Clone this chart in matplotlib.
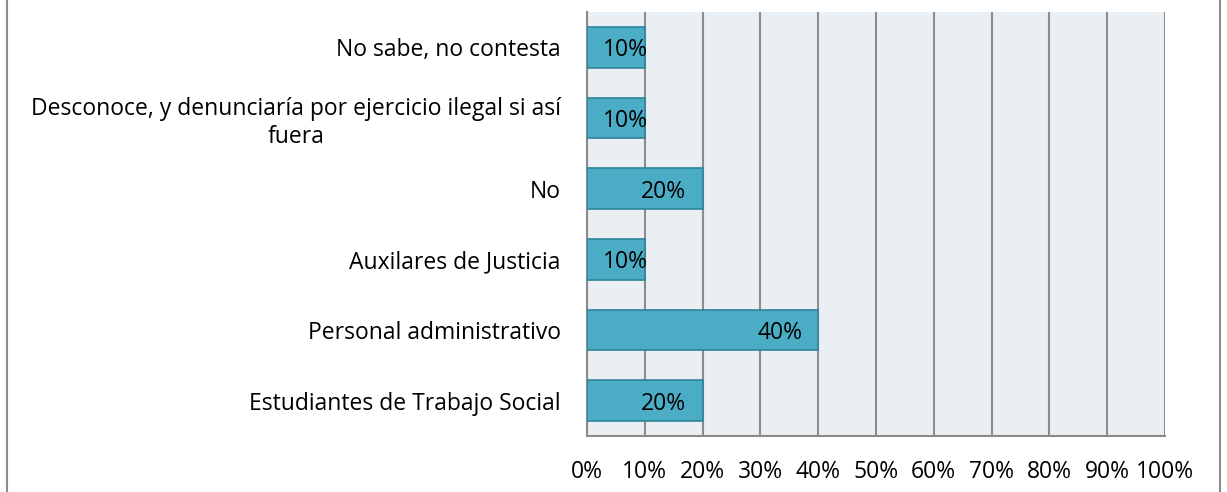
import matplotlib.pyplot as plt
from matplotlib.lines import Line2D

categories = ['Estudiantes de Trabajo Social', 'Personal administrativo',
              'Auxilares de Justicia', 'No',
              'Desconoce, y denunciaría por ejercicio ilegal si así\nfuera',
              'No sabe, no contesta']
values = [20, 40, 10, 20, 10, 10]
xticks = [0, 10, 20, 30, 40, 50, 60, 70, 80, 90, 100]

plt.rcParams['font.family'] = ['Open Sans', 'DejaVu Sans']
fs = 16.5

fig = plt.figure(figsize=(12.27, 4.92), dpi=100)
ax = fig.add_axes([587/1227, 1-436/492, (1165-587)/1227, (436-12)/492])
ax.set_facecolor('#E9EFF3')

y = range(len(categories))
ax.barh(y, values, height=0.58, color='#4BACC6', edgecolor='#31849B', linewidth=1.2, zorder=3)

for i, v in enumerate(values):
    if v - 2.8 - 7.8 < 2.8:
        ax.text(2.8, i, f'{v}%', ha='left', va='center_baseline', fontsize=fs, zorder=4)
    else:
        ax.text(v - 2.8, i, f'{v}%', ha='right', va='center_baseline', fontsize=fs, zorder=4)

ax.set_xlim(0, 100)
ax.set_ylim(-0.5, len(categories) - 0.5)
ax.set_xticks(xticks)
ax.set_xticklabels([f'{t}%' for t in xticks], fontsize=fs)
ax.set_yticks(list(y))
ax.set_yticklabels(categories, fontsize=fs, multialignment='center')
ax.xaxis.grid(True, color='#8C8C8C', linewidth=1.5, zorder=0)
ax.tick_params(axis='x', length=0, pad=17)
ax.tick_params(axis='y', length=0, pad=19)
for s in ['top', 'right']:
    ax.spines[s].set_visible(False)
for s in ['left', 'bottom']:
    ax.spines[s].set_color('#8C8C8C')
    ax.spines[s].set_linewidth(1.5)

# outer chart border
fig.add_artist(Line2D([7/1227, 7/1227], [0, 1], color='#8C8C8C', linewidth=1.5))
fig.add_artist(Line2D([1220/1227, 1220/1227], [0, 1], color='#8C8C8C', linewidth=1.5))

fig.savefig('out.png', dpi=100)
